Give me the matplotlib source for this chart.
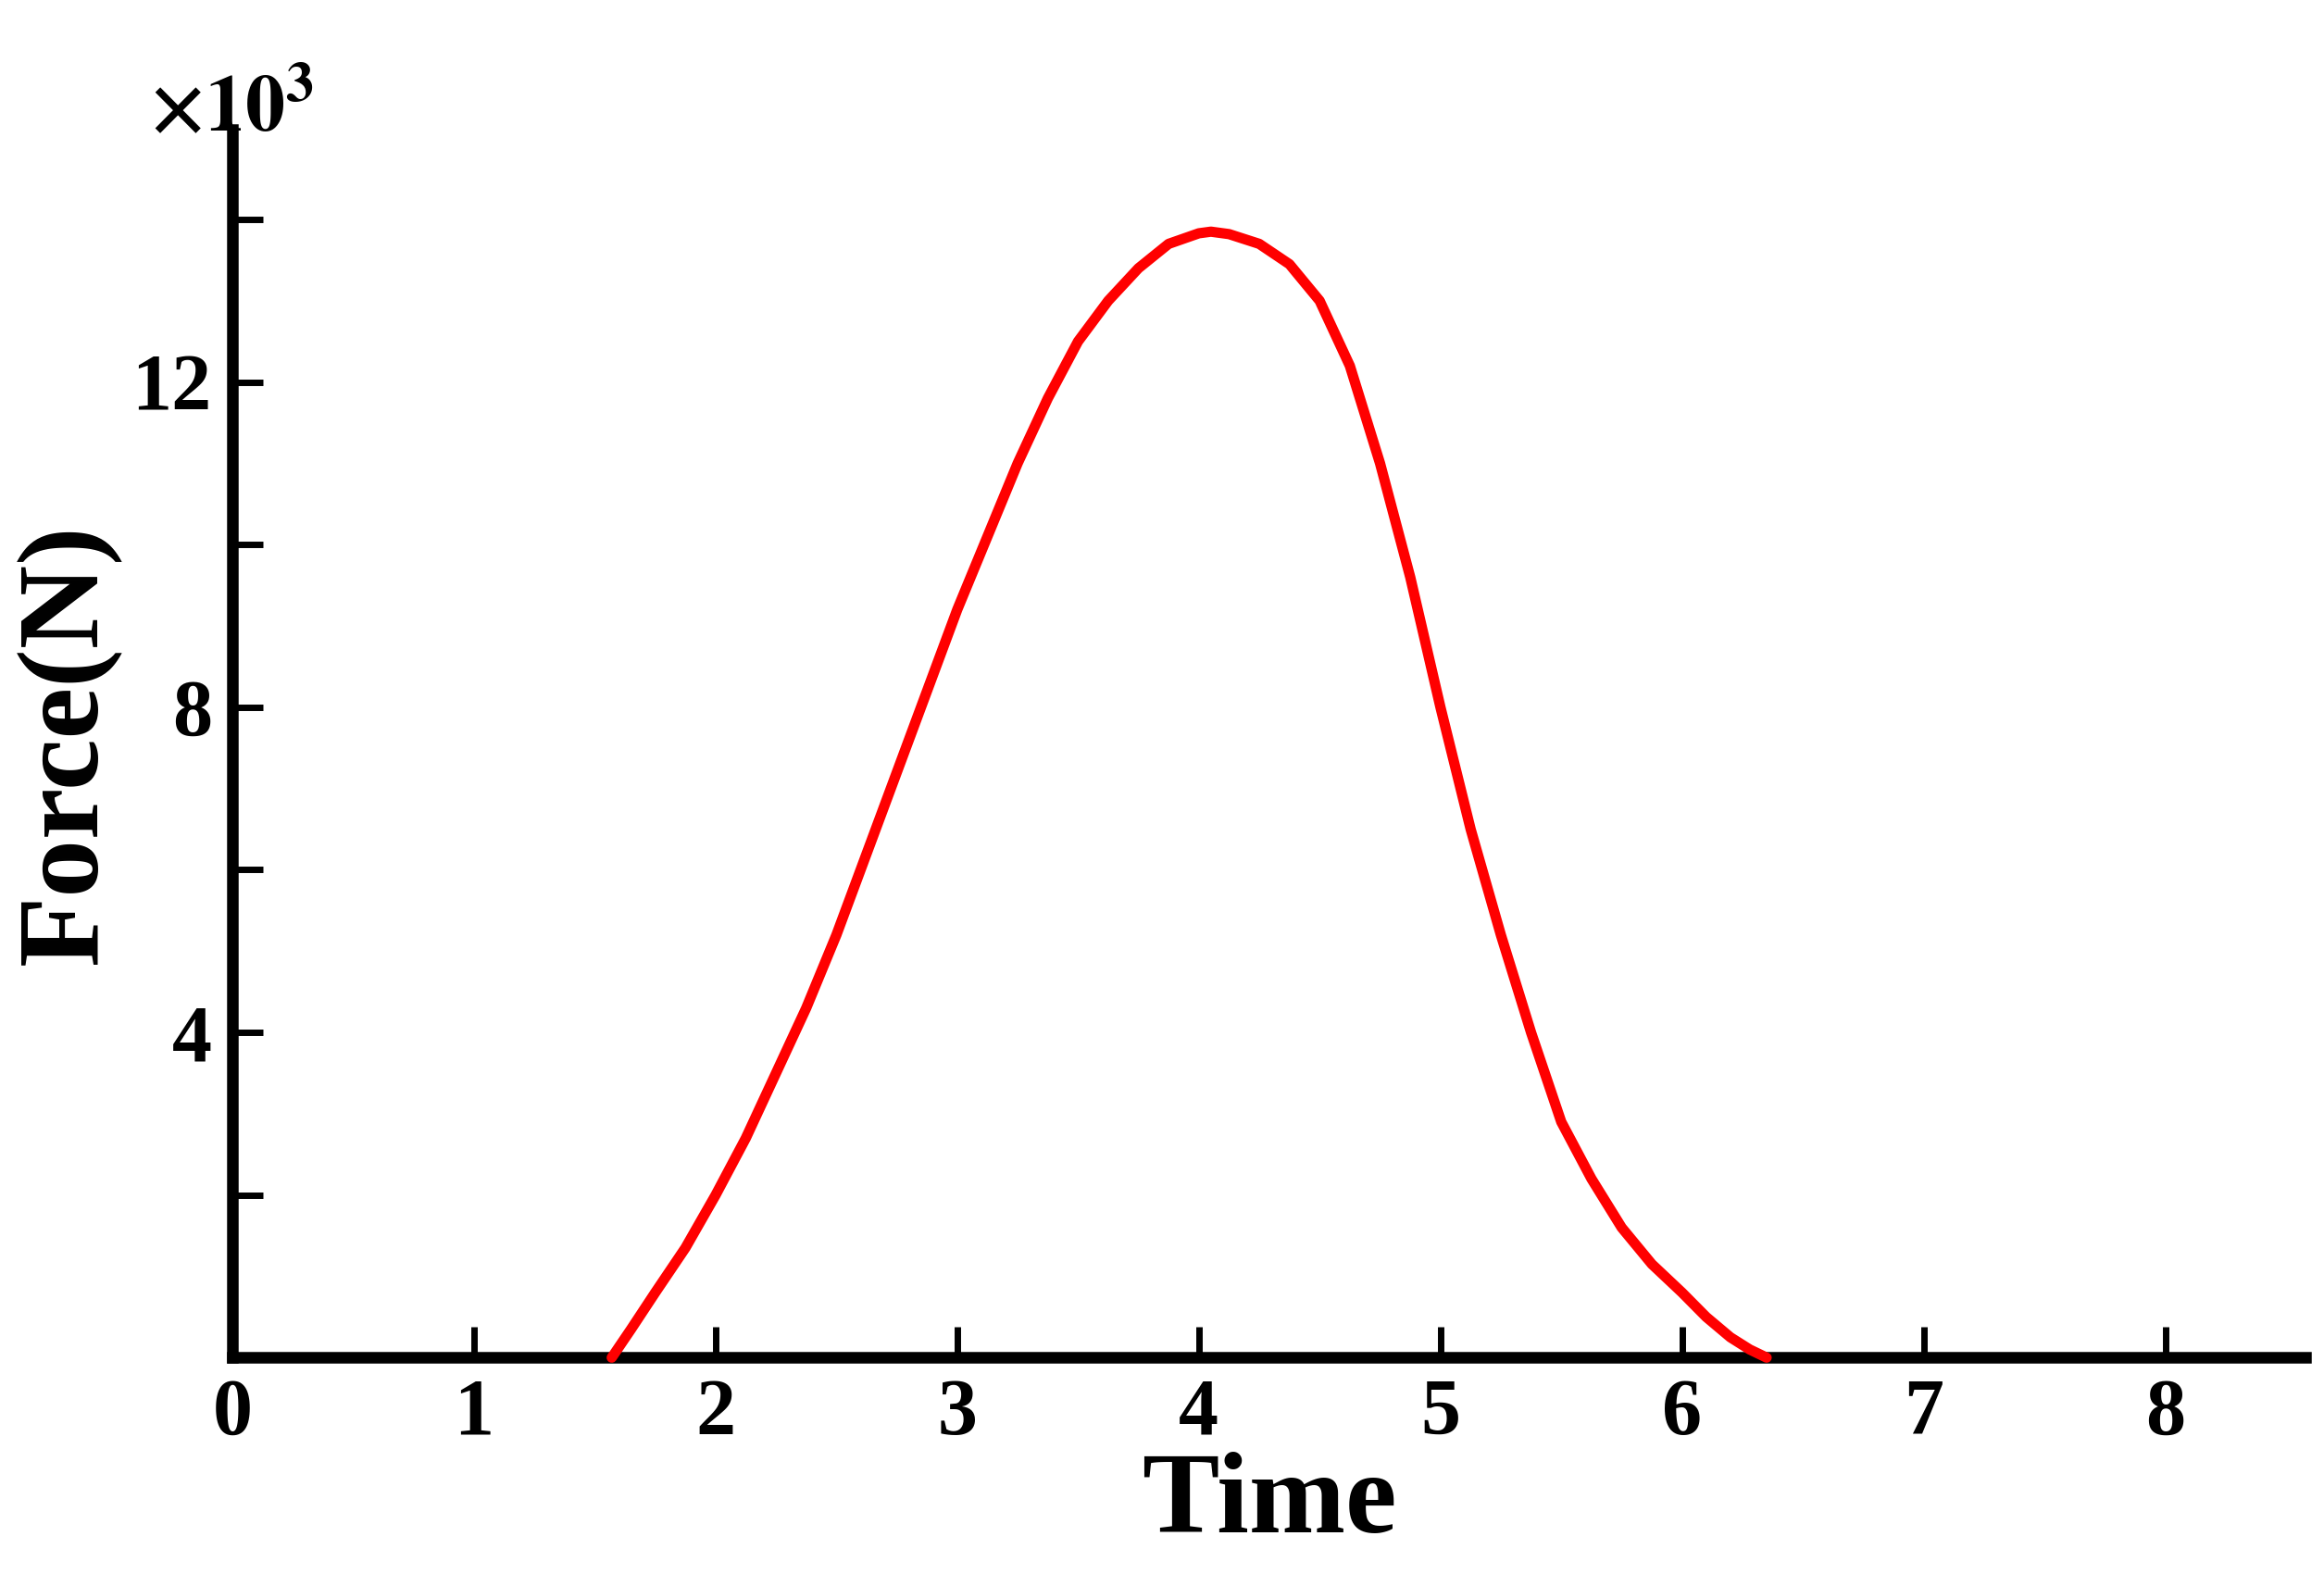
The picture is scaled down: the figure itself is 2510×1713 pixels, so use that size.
import matplotlib
matplotlib.use("Agg")
import matplotlib.pyplot as plt
from matplotlib.ticker import MultipleLocator

# values (force in 10^3 N)
time = [1.57, 1.65, 1.75, 1.875, 2.0, 2.125, 2.25, 2.375, 2.5, 2.625, 2.75, 2.875,
        3.0, 3.125, 3.25, 3.375, 3.5, 3.625, 3.75, 3.875, 4.0, 4.05, 4.125, 4.25,
        4.375, 4.5, 4.625, 4.75, 4.875, 5.0, 5.125, 5.25, 5.375, 5.5, 5.625, 5.75,
        5.875, 6.0, 6.1, 6.2, 6.28, 6.35]
force = [0.0, 0.35, 0.8, 1.35, 2.0, 2.7, 3.5, 4.3, 5.2, 6.2, 7.2, 8.2,
         9.2, 10.1, 11.0, 11.8, 12.5, 13.0, 13.4, 13.7, 13.83, 13.85, 13.82, 13.7,
         13.45, 13.0, 12.2, 11.0, 9.6, 8.0, 6.5, 5.2, 4.0, 2.9, 2.2, 1.6,
         1.15, 0.8, 0.5, 0.25, 0.1, 0.0]

plt.rcParams['font.family'] = ['Liberation Serif', 'DejaVu Serif']
plt.rcParams['font.weight'] = 'bold'
plt.rcParams['mathtext.fontset'] = 'stix'

fig = plt.figure(figsize=(25.1, 17.13), dpi=100)
ax = fig.add_axes([0.1, 0.144, 0.892, 0.774])
ax.plot(time, force, color='red', lw=8, solid_capstyle='round',
        solid_joinstyle='round', zorder=3, clip_on=False)

ax.set_xlim(0, 8.58)
ax.set_ylim(0, 15.1)
ax.xaxis.set_major_locator(MultipleLocator(1))
ax.yaxis.set_minor_locator(MultipleLocator(2))
ax.set_yticks([4, 8, 12])
ax.set_yticklabels(['4', '8', '12'])

for s in ['top', 'right']:
    ax.spines[s].set_visible(False)
for s in ['left', 'bottom']:
    ax.spines[s].set_linewidth(9)
ax.tick_params(which='both', direction='in', width=5, length=24,
               labelsize=62, pad=16)

ax.set_xlabel('Time', fontsize=90, fontweight='bold', labelpad=0)
ax.set_ylabel('Force(N)', fontsize=90, fontweight='bold', labelpad=8)
ax.text(-0.04, 0.985, r'$\times10^3$', transform=ax.transAxes, fontsize=62,
        ha='left', va='bottom', fontweight='normal')

fig.savefig('out.png', dpi=100)
